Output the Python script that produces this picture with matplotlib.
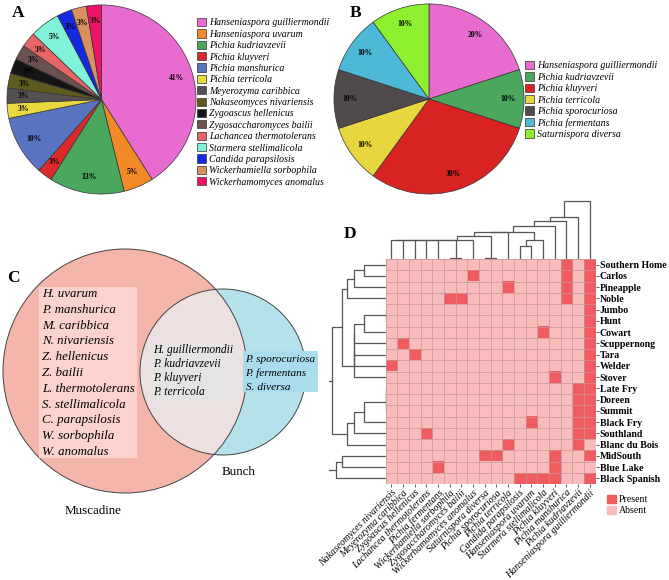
import numpy as np
import matplotlib.pyplot as plt
from matplotlib.patches import Circle, Rectangle, Patch
from matplotlib.colors import ListedColormap

plt.rcParams['font.family'] = 'serif'
plt.rcParams['font.serif'] = ['Liberation Serif', 'DejaVu Serif']

W, H = 669, 580

# A: isolates from muscadine grapes
musc_species = ['Hanseniaspora guilliermondii', 'Hanseniaspora uvarum', 'Pichia kudriavzevii',
                'Pichia kluyveri', 'Pichia manshurica', 'Pichia terricola', 'Meyerozyma caribbica',
                'Nakaseomyces nivariensis', 'Zygoascus hellenicus', 'Zygosaccharomyces bailii',
                'Lachancea thermotolerans', 'Starmera stellimalicola', 'Candida parapsilosis',
                'Wickerhamiella sorbophila', 'Wickerhamomyces anomalus']
musc_counts = [16, 2, 5, 1, 4, 1, 1, 1, 1, 1, 1, 2, 1, 1, 1]
musc_colors = ['#E86BD0', '#F28A28', '#4BA65E', '#DC2A2A', '#5A74C2', '#E9D83F', '#555052',
               '#5F5A1D', '#151515', '#6D5050', '#E86565', '#80F2DA', '#1528E2', '#D8915F', '#EE1269']

# B: isolates from bunch grapes
bunch_species = ['Hanseniaspora guilliermondii', 'Pichia kudriavzevii', 'Pichia kluyveri',
                 'Pichia terricola', 'Pichia sporocuriosa', 'Pichia fermentans', 'Saturnispora diversa']
bunch_counts = [2, 1, 3, 1, 1, 1, 1]
bunch_colors = ['#E86BD0', '#4BA65E', '#D92323', '#E8D63E', '#504A4C', '#4DB9D6', '#8EEF2E']

# C: venn lists
musc_only = ['H. uvarum', 'P. manshurica', 'M. caribbica', 'N. nivariensis', 'Z. hellenicus',
             'Z. bailii', 'L. thermotolerans', 'S. stellimalicola', 'C. parapsilosis',
             'W. sorbophila', 'W. anomalus']
shared = ['H. guilliermondii', 'P. kudriavzevii', 'P. kluyveri', 'P. terricola']
bunch_only = ['P. sporocuriosa', 'P. fermentans', 'S. diversa']

# D: presence / absence heatmap
hm_species = ['Nakaseomyces nivariensis', 'Meyerozyma caribbica', 'Zygoascus hellenicus',
              'Lachancea thermotolerans', 'Pichia fermentans', 'Wickerhamiella sorbophila',
              'Zygosaccharomyces bailii', 'Wickerhamomyces anomalus', 'Saturnispora diversa',
              'Pichia sporocuriosa', 'Pichia terricola', 'Candida parapsilosis',
              'Hanseniaspora uvarum', 'Starmera stellimalicola', 'Pichia kluyveri',
              'Pichia manshurica', 'Pichia kudriavzevii', 'Hanseniaspora guilliermondii']
hm_samples = ['Southern Home', 'Carlos', 'Pineapple', 'Noble', 'Jumbo', 'Hunt', 'Cowart',
              'Scuppernong', 'Tara', 'Welder', 'Stover', 'Late Fry', 'Doreen', 'Summit',
              'Black Fry', 'Southland', 'Blanc du Bois', 'MidSouth', 'Blue Lake', 'Black Spanish']
hm_rows = ['000000000000000101',
           '000000010000000101',
           '000000000010000101',
           '000001100000000101',
           '000000000000000001',
           '000000000000000001',
           '000000000000010001',
           '010000000000000001',
           '001000000000000001',
           '100000000000000001',
           '000000000000001001',
           '000000000000000011',
           '000000000000000011',
           '000000000000000011',
           '000000000000100011',
           '000100000000000011',
           '000000000010000010',
           '000000001100001001',
           '000010000000001000',
           '000000000001111001']

# trees as (left, right, height); new nodes numbered after the leaves
col_tree = [(5, 6, 0.08), (8, 9, 0.08), (0, 1, 1.414), (20, 2, 1.414), (21, 3, 1.414),
            (22, 4, 1.414), (23, 18, 1.414), (24, 7, 1.414), (11, 12, 1.0), (26, 13, 1.414),
            (25, 19, 1.732), (28, 10, 2.0), (29, 27, 2.0), (30, 14, 2.45), (31, 15, 2.83),
            (32, 16, 3.16), (33, 17, 4.38)]
row_tree = [(0, 1, 1.0), (20, 2, 1.414), (21, 3, 1.732), (4, 5, 0.0), (23, 6, 1.0),
            (24, 7, 1.414), (25, 8, 1.414), (26, 9, 1.414), (27, 10, 1.414), (22, 28, 2.0),
            (11, 12, 0.0), (30, 13, 0.0), (31, 14, 1.0), (32, 15, 1.414), (33, 16, 1.732),
            (29, 34, 2.45), (17, 18, 2.0), (36, 19, 2.236), (35, 37, 2.65)]

present_col = '#EF5B5F'
absent_col = '#F8BCBD'

fig = plt.figure(figsize=(W / 100, H / 100), dpi=100)


def px_axes(x0, y0, x1, y1):
    return fig.add_axes([x0 / W, 1 - y1 / H, (x1 - x0) / W, (y1 - y0) / H])


canvas = px_axes(0, 0, W, H)
canvas.set_xlim(0, W)
canvas.set_ylim(H, 0)
canvas.axis('off')


def draw_pie(ax, counts, colors):
    ax.pie(counts, colors=colors, startangle=90, counterclock=False,
           autopct='%1.0f%%', pctdistance=0.83,
           wedgeprops=dict(edgecolor='#333333', linewidth=0.5),
           textprops=dict(fontsize=5.5, fontweight='bold'))
    ax.set_xlim(-1.01, 1.01)
    ax.set_ylim(-1.01, 1.01)


legend_kw = dict(loc='upper left', frameon=False, prop=dict(style='italic', size=7.1),
                 handlelength=0.9, handleheight=0.9, handletextpad=0.35,
                 labelspacing=0.19, borderpad=0, borderaxespad=0)

axA = px_axes(6, 4, 197, 195)
draw_pie(axA, musc_counts, musc_colors)
fig.legend(axA.patches, musc_species, bbox_to_anchor=(197 / W, 1 - 18 / H), **legend_kw)

axB = px_axes(333, 3, 525, 195)
draw_pie(axB, bunch_counts, bunch_colors)
fig.legend(axB.patches, bunch_species, bbox_to_anchor=(525 / W, 1 - 61 / H), **legend_kw)

# C: venn
big = Circle((125, 371), 122, facecolor='#F4B5AB', edgecolor='none')
small = Circle((223, 372), 83, facecolor='#B5E1EB', edgecolor='none')
canvas.add_patch(big)
canvas.add_patch(small)
lens = Circle((223, 372), 83, facecolor='#EDE0E0', edgecolor='none')
canvas.add_patch(lens)
lens.set_clip_path(big)
canvas.add_patch(Circle((125, 371), 122, fill=False, edgecolor='#444444', lw=0.7))
canvas.add_patch(Circle((223, 372), 83, fill=False, edgecolor='#444444', lw=0.7))

canvas.add_patch(Rectangle((39, 287), 98, 171, facecolor='#FBD2CC', edgecolor='none'))
canvas.add_patch(Rectangle((151, 344), 87, 57, facecolor='#E6E3E3', edgecolor='none'))
canvas.add_patch(Rectangle((243, 351), 75, 41, facecolor='#A9DCEC', edgecolor='none'))
for i, s in enumerate(musc_only):
    canvas.text(42, 294 + i * 15.8, s, style='italic', fontsize=9.3, va='center')
for i, s in enumerate(shared):
    canvas.text(153, 350 + i * 13.9, s, style='italic', fontsize=8.3, va='center')
for i, s in enumerate(bunch_only):
    canvas.text(245.5, 359 + i * 14, s, style='italic', fontsize=8.1, va='center')
canvas.text(239, 472, 'Bunch', fontsize=9.4, ha='center', va='center')
canvas.text(93, 511, 'Muscadine', fontsize=9.4, ha='center', va='center')

# panel letters
for lab, x, y in [('A', 18, 13), ('B', 356, 13), ('C', 13, 278), ('D', 350, 234)]:
    canvas.text(x, y, lab, fontsize=12.5, fontweight='bold', ha='center', va='center')

# D: heatmap
mat = np.array([[int(c) for c in r] for r in hm_rows])
axH = px_axes(385.5, 259, 595.5, 484)
axH.imshow(mat, cmap=ListedColormap([absent_col, present_col]), aspect='auto',
           interpolation='nearest', vmin=0, vmax=1)
axH.set_xticks(np.arange(-0.5, len(hm_species)), minor=True)
axH.set_yticks(np.arange(-0.5, len(hm_samples)), minor=True)
axH.grid(which='minor', color='#C99494', lw=0.5)
axH.tick_params(which='minor', length=0)
axH.set_xticks(range(len(hm_species)))
axH.set_xticklabels(hm_species, rotation=45, ha='right', rotation_mode='anchor',
                    style='italic', fontsize=7.1)
axH.set_yticks(range(len(hm_samples)))
axH.set_yticklabels(hm_samples, fontweight='bold', fontsize=7.1)
axH.yaxis.tick_right()
axH.tick_params(which='major', length=2, width=0.6, color='#444444', pad=1)
for s in axH.spines.values():
    s.set_visible(False)


def dendro_segments(tree, n):
    pos = {i: float(i) for i in range(n)}
    hgt = {i: 0.0 for i in range(n)}
    segs = []
    for k, (a, b, h) in enumerate(tree):
        segs.append(([pos[a], pos[a], pos[b], pos[b]], [hgt[a], h, h, hgt[b]]))
        pos[n + k] = (pos[a] + pos[b]) / 2
        hgt[n + k] = h
    return segs


axT = px_axes(385.5, 195, 595.5, 259)
for xs, hs in dendro_segments(col_tree, len(hm_species)):
    axT.plot(xs, hs, color='#555555', lw=0.9)
axT.set_xlim(-0.5, len(hm_species) - 0.5)
axT.set_ylim(0, 64 / 13.3)
axT.axis('off')

axL = px_axes(328.5, 259, 385.5, 484)
for ys, hs in dendro_segments(row_tree, len(hm_samples)):
    axL.plot(hs, ys, color='#555555', lw=0.9)
axL.set_ylim(len(hm_samples) - 0.5, -0.5)
axL.set_xlim(57 / 22, 0)
axL.axis('off')

fig.legend([Patch(color=present_col), Patch(color=absent_col)], ['Present', 'Absent'],
           loc='upper left', bbox_to_anchor=(607 / W, 1 - 495 / H), frameon=False,
           prop=dict(size=7.1), handlelength=0.9, handleheight=0.9, handletextpad=0.3,
           labelspacing=0.15, borderpad=0, borderaxespad=0)

fig.savefig('out.png', dpi=100)
